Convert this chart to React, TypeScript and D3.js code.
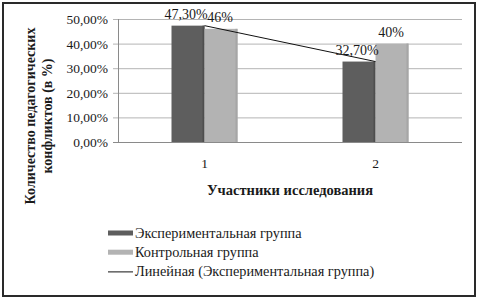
import React from "react";
import * as d3 from "d3";

const categories = ["1", "2"];
const experimental = [0.473, 0.327];
const control = [0.46, 0.4];
const expLabels = ["47,30%", "32,70%"];
const ctrlLabels = ["46%", "40%"];
const yTicks = [0, 0.1, 0.2, 0.3, 0.4, 0.5];
const seriesNames = ["Экспериментальная группа", "Контрольная группа", "Линейная (Экспериментальная группа)"];

const W = 480;
const H = 298;
const FONT = "Liberation Serif, Tinos, DejaVu Serif, serif";
const DARK = "#5e5e5e";
const LIGHT = "#b3b3b3";
const TEXT = "#1a1a1a";

export default function App() {
  const x = d3.scaleBand<string>().domain(categories).range([119, 461]).paddingInner(0).paddingOuter(0);
  const y = d3.scaleLinear().domain([0, 0.5]).range([142, 19]);
  const barW = 33;
  const fmt = (v: number) => d3.format(".2f")(v * 100).replace(".", ",") + "%";

  // linear trend (least squares) on experimental group
  const xs = experimental.map((_, i) => i + 1);
  const mx = d3.mean(xs)!;
  const my = d3.mean(experimental)!;
  const slope =
    d3.sum(xs.map((xi, i) => (xi - mx) * (experimental[i] - my))) / d3.sum(xs.map((xi) => (xi - mx) ** 2));
  const intercept = my - slope * mx;
  const center = (c: string) => x(c)! + x.bandwidth() / 2;
  const trendPts: [number, number][] = categories.map((c, i) => [center(c), y(intercept + slope * (i + 1))]);
  const trendLine = d3.line()(trendPts)!;

  return (
    <svg width={W} height={H} style={{ position: "absolute", left: 0, top: 0, background: "#fff", fontFamily: FONT }}>
      <rect x={3} y={3} width={472} height={293} fill="#fff" stroke="#2a2a2a" strokeWidth={2} />
      {/* gridlines + y ticks */}
      {yTicks.map((t) => (
        <g key={t}>
          <line x1={113} x2={462} y1={y(t) + 0.5} y2={y(t) + 0.5} stroke={t === 0 ? "#8a8a8a" : "#b4b4b4"} strokeWidth={1} />
          <text x={108} y={y(t) + 5} textAnchor="end" fontSize={13.5} fill={TEXT}>
            {fmt(t)}
          </text>
        </g>
      ))}
      <line x1={118.5} x2={118.5} y1={y(0.5)} y2={y(0) + 1} stroke="#8a8a8a" strokeWidth={1} />
      {/* bars */}
      {categories.map((c, i) => {
        const cx = center(c);
        return (
          <g key={c}>
            <rect x={cx - barW} y={y(experimental[i])} width={barW} height={y(0) - y(experimental[i])} fill={DARK} />
            <rect x={cx - 2} y={y(experimental[i])} width={2} height={y(0) - y(experimental[i])} fill="#4e4e4e" />
            <rect x={cx} y={y(control[i])} width={barW} height={y(0) - y(control[i])} fill={LIGHT} />
            <rect x={cx + barW - 2} y={y(control[i])} width={2} height={y(0) - y(control[i])} fill="#a6a6a6" />
          </g>
        );
      })}
      {/* trendline */}
      <path d={trendLine} fill="none" stroke="#111" strokeWidth={1} />
      {/* data labels */}
      {categories.map((c, i) => {
        const cx = center(c);
        return (
          <g key={"l" + c} fontSize={14} fill={TEXT}>
            <text x={cx - barW / 2 - 2} y={y(experimental[i]) - 7} textAnchor="middle">
              {expLabels[i]}
            </text>
            <text x={cx + barW / 2 - 1} y={y(control[i]) - 7} textAnchor="middle">
              {ctrlLabels[i]}
            </text>
          </g>
        );
      })}
      {/* x tick labels */}
      {categories.map((c) => (
        <text key={"t" + c} x={center(c)} y={168} textAnchor="middle" fontSize={13.5} fill={TEXT}>
          {c}
        </text>
      ))}
      {/* axis titles */}
      <text x={290} y={195} textAnchor="middle" fontSize={14.5} fontWeight="bold" fill={TEXT}>
        Участники исследования
      </text>
      <g transform="translate(35,116) rotate(-90)">
        <text x={0} y={0} textAnchor="middle" fontSize={14} fontWeight="bold" fill={TEXT}>
          Количество педагогических
        </text>
        <text x={0} y={17} textAnchor="middle" fontSize={14} fontWeight="bold" fill={TEXT}>
          конфликтов (в %)
        </text>
      </g>
      {/* legend */}
      {seriesNames.map((n, i) => {
        const cy = 233 + i * 19.2;
        return (
          <g key={n}>
            {i < 2 ? (
              <rect x={108} y={cy - 2.5} width={25} height={5} fill={i === 0 ? DARK : LIGHT} />
            ) : (
              <line x1={108} x2={133} y1={cy + 0.5} y2={cy + 0.5} stroke="#111" strokeWidth={1} />
            )}
            <text x={135} y={cy + 4.5} fontSize={14.3} fill={TEXT}>
              {n}
            </text>
          </g>
        );
      })}
    </svg>
  );
}
